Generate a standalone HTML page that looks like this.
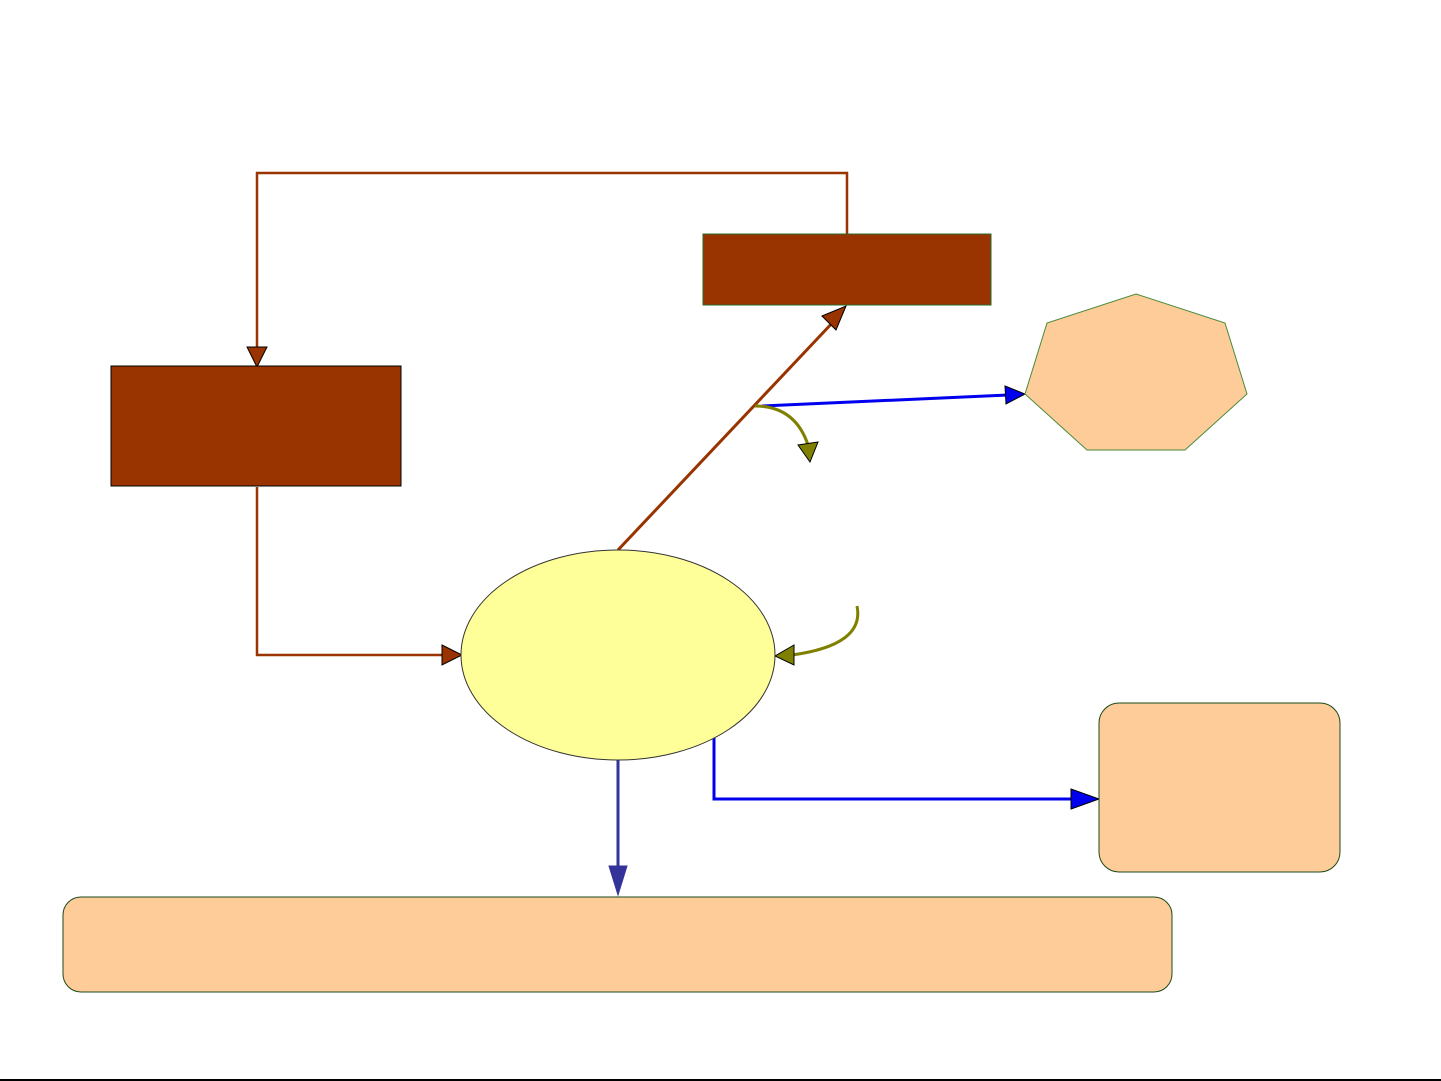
<!DOCTYPE html>
<html><head><meta charset="utf-8"><style>html,body{margin:0;padding:0;background:#fff;}svg{display:block}</style></head>
<body>
<svg width="1441" height="1081" viewBox="0 0 1441 1081" xmlns="http://www.w3.org/2000/svg">
<defs>
<marker id="br" markerWidth="10" markerHeight="10" refX="9" refY="5" orient="auto" markerUnits="userSpaceOnUse" viewBox="0 0 10 10"><path d="M0,0 L10,5 L0,10 z" fill="#993300" stroke="#000" stroke-width="0.5"/></marker>
</defs>
<!-- top loop -->
<polyline points="847,234 847,173 257,173 257,350" fill="none" stroke="#993300" stroke-width="2.5"/>
<polygon points="247,347 267,347 257,367" fill="#993300" stroke="#000" stroke-width="1"/>
<!-- left box -> ellipse -->
<polyline points="257,487 257,655 445,655" fill="none" stroke="#993300" stroke-width="2.5"/>
<polygon points="442,645 462,655 442,665" fill="#993300" stroke="#000" stroke-width="1"/>
<!-- ellipse -> top box diagonal -->
<line x1="618" y1="550" x2="835" y2="320" stroke="#993300" stroke-width="3"/>
<polygon points="822,316 846,306 836,330" fill="#993300" stroke="#000" stroke-width="1"/>
<!-- blue to heptagon -->
<line x1="762" y1="406" x2="1008" y2="395" stroke="#0000ee" stroke-width="3"/>
<polygon points="1005,386 1025,394 1006,404" fill="#0000ee" stroke="#000" stroke-width="1"/>
<!-- olive curl -->
<path d="M755,406 Q795,406 808,445" fill="none" stroke="#808000" stroke-width="3"/>
<polygon points="798,445 818,442 810,462" fill="#808000" stroke="#000" stroke-width="1"/>
<!-- olive curve to ellipse -->
<path d="M857,606 Q865,645 792,655" fill="none" stroke="#808000" stroke-width="3"/>
<polygon points="794,645 775,656 794,665" fill="#808000" stroke="#000" stroke-width="1"/>
<!-- blue to right box -->
<polyline points="714,737 714,799 1080,799" fill="none" stroke="#0000ee" stroke-width="3"/>
<polygon points="1071,789 1099,799 1071,809" fill="#0000ee" stroke="#000" stroke-width="1"/>
<!-- down arrow -->
<line x1="618" y1="760" x2="618" y2="870" stroke="#333399" stroke-width="3"/>
<polygon points="609,866 627,866 618,895" fill="#333399" stroke="#333399" stroke-width="1"/>
<!-- shapes -->
<rect x="703" y="234" width="288" height="71" fill="#993300" stroke="#2a6b2a" stroke-width="1"/>
<rect x="111" y="366" width="290" height="120" fill="#993300" stroke="#000" stroke-width="1"/>
<polygon points="1136,294 1225,323 1247,394 1185,450 1087,450 1025,394 1047,323" fill="#fdcc99" stroke="#4a8a3a" stroke-width="1"/>
<ellipse cx="618" cy="655" rx="157" ry="105" fill="#ffff99" stroke="#333" stroke-width="1"/>
<rect x="1099" y="703" width="241" height="169" rx="20" fill="#fdcc99" stroke="#1a4a1a" stroke-width="1"/>
<rect x="63" y="897" width="1109" height="95" rx="18" fill="#fdcc99" stroke="#1a4a1a" stroke-width="1"/>
<line x1="0" y1="1080" x2="1441" y2="1080" stroke="#000" stroke-width="2"/>
</svg>
</body></html>
